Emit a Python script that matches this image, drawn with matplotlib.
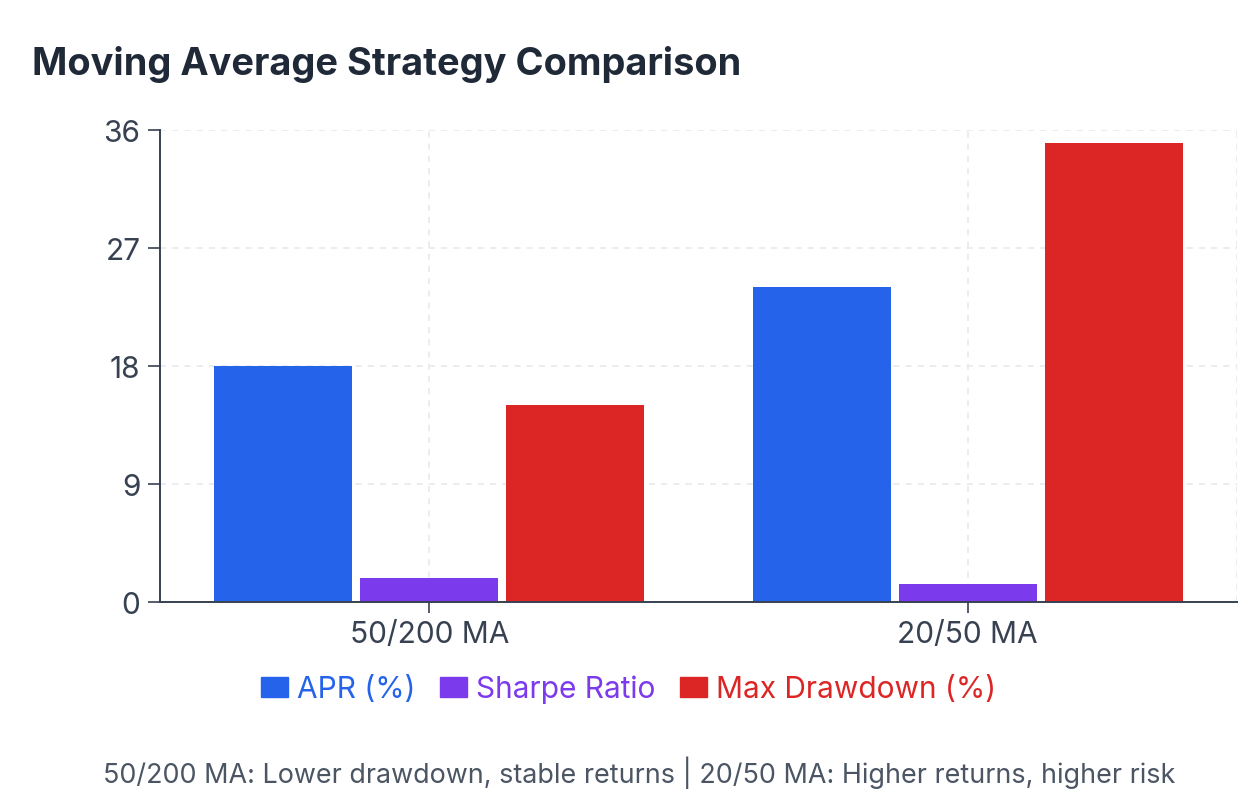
import numpy as np
import matplotlib.pyplot as plt
from matplotlib.patches import Rectangle

# chart data
strategies = ["50/200 MA", "20/50 MA"]
apr = [18, 24]
sharpe = [1.8, 1.4]
max_drawdown = [15, 35]
series_names = ["APR (%)", "Sharpe Ratio", "Max Drawdown (%)"]
series_colors = ["#2563eb", "#7c3aed", "#dc2626"]
y_ticks = [0, 9, 18, 27, 36]

plt.rcParams['font.family'] = ['Inter', 'DejaVu Sans']

W, H = 1257, 803
fig = plt.figure(figsize=(W / 100, H / 100), dpi=100)
ax = fig.add_axes([160 / W, 1 - 603 / H, (1237 - 160) / W, (603 - 131) / H])

axis_color = "#374151"
grid_color = "#e5e7eb"

x = np.arange(len(strategies))
bar_w = 0.256
step = 0.271
all_series = [apr, sharpe, max_drawdown]
for i, (vals, name, col) in enumerate(zip(all_series, series_names, series_colors)):
    ax.bar(x + (i - 1) * step, vals, width=bar_w, color=col, label=name, zorder=3)

ax.set_xlim(-0.5, len(strategies) - 0.5)
ax.set_ylim(0, 36)

# dashed grid behind the bars
dash = (0, (4, 4))
for yv in y_ticks:
    ax.axhline(yv, color=grid_color, lw=1.1, ls=dash, zorder=1)
for xv in list(x) + [len(strategies) - 0.5]:
    ax.axvline(xv, color=grid_color, lw=1.1, ls=dash, zorder=1)

ax.set_xticks(x)
ax.set_xticklabels(strategies)
ax.set_yticks(y_ticks)
ax.tick_params(axis='both', colors=axis_color, labelsize=21.5, width=1.2)
ax.tick_params(axis='x', length=8, pad=5)
ax.tick_params(axis='y', length=8.6, pad=5.5)
for lbl in ax.get_xticklabels() + ax.get_yticklabels():
    lbl.set_color(axis_color)

for side in ['top', 'right']:
    ax.spines[side].set_visible(False)
for side in ['left', 'bottom']:
    ax.spines[side].set_color(axis_color)
    ax.spines[side].set_linewidth(1.4)
    ax.spines[side].set_zorder(4)

# title
fig.text(32 / W, 1 - 75 / H, "Moving Average Strategy Comparison", fontsize=27.3,
         fontweight='bold', color="#1f2937", va='baseline', ha='left')

# legend
handles = [Rectangle((0, 0), 1, 1, color=c) for c in series_colors]
leg = fig.legend(handles, series_names, loc='center', bbox_to_anchor=(0.5, 1 - 690 / H),
                 ncol=3, frameon=False, fontsize=21.5, handlelength=0.93,
                 handleheight=0.67, handletextpad=0.3, columnspacing=0.8)
for txt, c in zip(leg.get_texts(), series_colors):
    txt.set_color(c)

# footnote
fig.text(639 / W, 1 - 783 / H,
         "50/200 MA: Lower drawdown, stable returns | 20/50 MA: Higher returns, higher risk",
         fontsize=19.4, color="#4b5563", ha='center', va='baseline')

fig.savefig("out.png", dpi=100)
